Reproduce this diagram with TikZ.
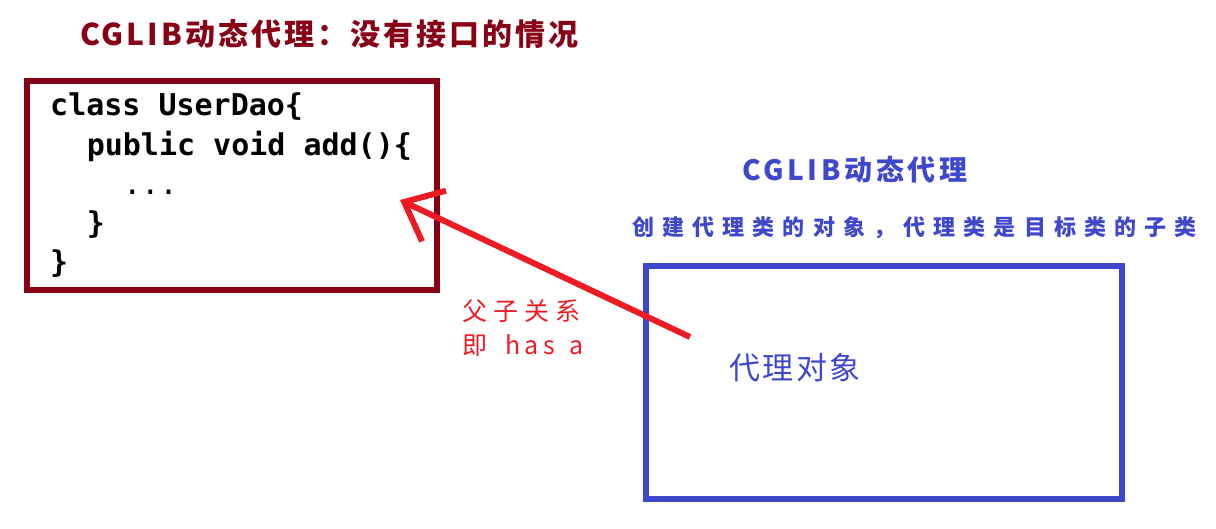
\documentclass[tikz,border=0pt]{standalone}
\usepackage{fontspec}
\setmainfont{Noto Sans CJK SC}
\setmonofont{DejaVu Sans Mono}
\usetikzlibrary{arrows.meta}

\definecolor{daored}{RGB}{136,0,21}
\definecolor{proxyblue}{RGB}{63,72,204}
\definecolor{linkred}{RGB}{237,28,36}

\tikzset{
    box/.style={draw,line width=6pt,inner sep=0pt},
    codeline/.style={anchor=base west,inner sep=0pt,
        font=\fontsize{30}{36}\selectfont\ttfamily\bfseries},
    heading/.style={anchor=base west,inner sep=0pt,
        font=\fontsize{30}{36}\selectfont\bfseries\addfontfeature{LetterSpace=10}},
    note/.style={anchor=base west,inner sep=0pt}
}

\begin{document}
\begin{tikzpicture}[x=1pt,y=-1pt,>={Straight Barb[length=33pt,width=56pt]}]
    \useasboundingbox (0,0) rectangle (1216,528);

    % left: the target class
    \node [heading,text=daored] (title) at (80,45) {CGLIB动态代理：没有接口的情况};
    \node [box,draw=daored,minimum width=410pt,minimum height=209pt] (userdao) at (232,185.5) {};
    \node [codeline] (l1) at (50,115) {class UserDao\{};
    \node [codeline] (l2) at (86.6,155) {public void add()\{};
    \node [codeline,font=\fontsize{30}{36}\selectfont\ttfamily] (l3) at (123.2,194) {...};
    \node [codeline] (l4) at (86.6,233) {\}};
    \node [codeline] (l5) at (50,272) {\}};

    % right: the proxy
    \node [heading,text=proxyblue,font=\fontsize{28}{34}\selectfont\bfseries\addfontfeature{LetterSpace=13}] (cglib) at (742,180) {CGLIB动态代理};
    \node [note,text=proxyblue,font=\fontsize{22}{28}\selectfont\bfseries\addfontfeature{LetterSpace=37}] (desc) at (632,235) {创建代理类的对象，代理类是目标类的子类};
    \node [box,draw=proxyblue,minimum width=476pt,minimum height=233pt] (proxybox) at (884,382.5) {};
    \node [note,text=proxyblue,font=\fontsize{31}{36}\selectfont\addfontfeature{LetterSpace=8}] (proxyobj) at (729,379) {代理对象};

    % relation
    \node [note,text=linkred,font=\fontsize{25}{30}\selectfont\addfontfeature{LetterSpace=24}] (rel1) at (462,320) {父子关系};
    \node [note,text=linkred,font=\fontsize{25}{30}\selectfont\addfontfeature{LetterSpace=18}] (rel2) at (462,354) {即\hspace*{18pt}has\hspace*{14pt}a};

    \coordinate (tail) at (690,337);
    \coordinate (tip) at (400,200);
    \draw [->,linkred,line width=6pt] (tail) -- (tip);

\end{tikzpicture}
\end{document}
